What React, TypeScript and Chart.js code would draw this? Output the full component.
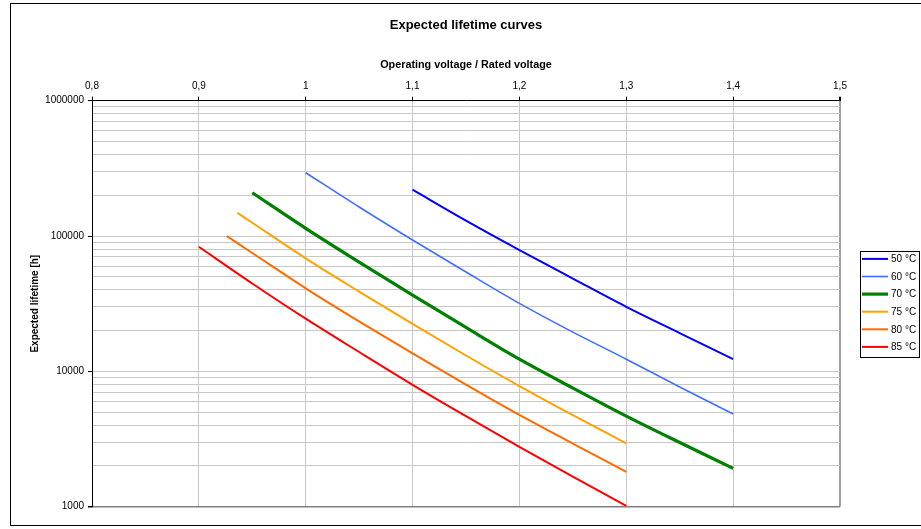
import React, { useEffect, useRef } from "react";
import { Chart, registerables } from "chart.js";

Chart.register(...registerables);

// ---------- data ----------
const chartTitle = "Expected lifetime curves";
const xAxisTitle = "Operating voltage / Rated voltage";
const yAxisTitle = "Expected lifetime [h]";

const seriesNames = ["50 °C", "60 °C", "70 °C", "75 °C", "80 °C", "85 °C"];

const volts50 = [1.1, 1.15, 1.2, 1.25, 1.3, 1.35, 1.4];
const life50 = [220000, 130000, 78800, 48500, 30000, 19200, 12300];

const volts60 = [1.0, 1.05, 1.1, 1.15, 1.2, 1.25, 1.3, 1.35, 1.4];
const life60 = [293700, 163800, 93400, 54200, 31800, 19500, 12300, 7660, 4840];

const volts70 = [0.95, 1.0, 1.05, 1.1, 1.15, 1.2, 1.25, 1.3, 1.35, 1.4];
const life70 = [208900, 114000, 64200, 36600, 21100, 12300, 7530, 4670, 2980, 1920];

const volts75 = [0.936, 0.95, 1.0, 1.05, 1.1, 1.15, 1.2, 1.25, 1.3];
const life75 = [148700, 125400, 68400, 38900, 22400, 13100, 7790, 4750, 2940];

const volts80 = [0.926, 0.95, 1.0, 1.05, 1.1, 1.15, 1.2, 1.25, 1.3];
const life80 = [100000, 74900, 41100, 23400, 13600, 7990, 4770, 2930, 1810];

const volts85 = [0.9, 0.95, 1.0, 1.05, 1.1, 1.15, 1.2, 1.25, 1.3];
const life85 = [83300, 44600, 24500, 13900, 7960, 4670, 2770, 1670, 1016];

const xMin = 0.8;
const xMax = 1.5;
const xStep = 0.1;

const yDecades = [1000, 10000, 100000];
const yMultipliers = [1, 2, 3, 4, 5, 6, 7, 8, 9];
const yMin = 1000;
const yMax = 1000000;

// ---------- styles ----------
const seriesColors = ["#0000ff", "#3f6fff", "#008000", "#ffa200", "#ff6a00", "#ff0000"];
const seriesWidths = [2, 1.6, 3.2, 2, 2, 2];

const FONT = "'Liberation Sans', Arial, Helvetica, sans-serif";

const allVolts = [volts50, volts60, volts70, volts75, volts80, volts85];
const allLife = [life50, life60, life70, life75, life80, life85];

const yTickValues: number[] = [];
yDecades.forEach((d) => yMultipliers.forEach((m) => yTickValues.push(d * m)));
yTickValues.push(yMax);

const fmtX = (v: number) => String(Number(v.toFixed(2))).replace(".", ",");

const framePlugin = {
  id: "frame",
  beforeDraw(chart: any) {
    const { ctx } = chart;
    ctx.save();
    ctx.fillStyle = "#ffffff";
    ctx.fillRect(0, 0, chart.width, chart.height);
    ctx.strokeStyle = "#000000";
    ctx.lineWidth = 1;
    ctx.strokeRect(10.5, 3.5, chart.width + 20, 522);
    ctx.restore();
  },
};

const legendPlugin = {
  id: "boxLegend",
  afterDraw(chart: any) {
    const { ctx, chartArea } = chart;
    const ds = chart.data.datasets;
    const rowH = 17.6;
    const boxW = 59;
    const boxH = rowH * ds.length;
    const left = chartArea.right + 20;
    const top = (chartArea.top + chartArea.bottom) / 2 - boxH / 2 + 0.5;
    ctx.save();
    ctx.strokeStyle = "#000000";
    ctx.lineWidth = 1;
    ctx.strokeRect(Math.round(left) + 0.5, Math.round(top) + 0.5, boxW, Math.round(boxH));
    ctx.font = `10px ${FONT}`;
    ctx.textBaseline = "middle";
    ctx.textAlign = "left";
    ds.forEach((d: any, i: number) => {
      const y = top + 7.5 + i * rowH;
      ctx.strokeStyle = d.borderColor;
      ctx.lineWidth = d.borderWidth;
      ctx.beginPath();
      ctx.moveTo(left + 2, y);
      ctx.lineTo(left + 28, y);
      ctx.stroke();
      ctx.fillStyle = "#000000";
      ctx.fillText(d.label, left + 31, y + 0.5);
    });
    ctx.restore();
  },
};

export default function App() {
  const canvasRef = useRef<HTMLCanvasElement | null>(null);

  useEffect(() => {
    if (!canvasRef.current) return;
    Chart.defaults.font.family = FONT;
    const datasets = seriesNames.map((name, i) => ({
      label: name,
      data: allVolts[i].map((v, j) => ({ x: v, y: allLife[i][j] })),
      borderColor: seriesColors[i],
      backgroundColor: seriesColors[i],
      borderWidth: seriesWidths[i],
      pointRadius: 0,
      pointHoverRadius: 0,
      fill: false,
      cubicInterpolationMode: "monotone" as const,
    }));

    const chart = new Chart(canvasRef.current, {
      type: "line",
      data: { datasets },
      options: {
        animation: false,
        responsive: false,
        maintainAspectRatio: false,
        events: [],
        layout: { padding: { left: 0, right: 81, top: 0, bottom: 22.3 } },
        plugins: {
          legend: { display: false },
          tooltip: { enabled: false },
          title: {
            display: true,
            text: chartTitle,
            fullSize: false,
            color: "#000000",
            font: { size: 13, weight: "bold", family: FONT },
            padding: { top: 17.4, bottom: 10 },
          },
        },
        scales: {
          x: {
            type: "linear",
            position: "top",
            min: xMin,
            max: xMax,
            afterFit: (scale: any) => {
              scale.height = 57.7;
            },
            ticks: {
              stepSize: xStep,
              color: "#000000",
              font: { size: 10, family: FONT },
              padding: 4,
              maxRotation: 0,
              autoSkip: false,
              callback: (v: any) => fmtX(Number(v)),
            },
            grid: {
              color: (c: any) =>
                c.tick && Math.abs(c.tick.value - xMax) < 1e-6 ? "#a0a0a0" : "#c8c8c8",
              lineWidth: (c: any) =>
                c.tick && Math.abs(c.tick.value - xMax) < 1e-6 ? 2 : 1,
              tickColor: "#000000",
              tickLength: 4,
              drawTicks: true,
            },
            border: { display: true, color: "#000000", width: 1 },
            title: {
              display: true,
              text: xAxisTitle,
              color: "#000000",
              font: { size: 10.8, weight: "bold", family: FONT },
              padding: { top: 15.5, bottom: 0 },
            },
          },
          y: {
            type: "logarithmic",
            position: "left",
            min: yMin,
            max: yMax,
            afterFit: (scale: any) => {
              scale.width = 92;
            },
            afterBuildTicks: (scale: any) => {
              scale.ticks = yTickValues.map((v) => ({
                value: v,
                major: Math.abs(Math.log10(v) - Math.round(Math.log10(v))) < 1e-9,
              }));
            },
            ticks: {
              color: "#000000",
              font: { size: 10, family: FONT },
              padding: 4,
              autoSkip: false,
              callback: (v: any) => {
                const n = Number(v);
                const l = Math.log10(n);
                return Math.abs(l - Math.round(l)) < 1e-9 ? String(n) : "";
              },
            },
            grid: {
              color: (c: any) => (c.tick && c.tick.value === yMin ? "#808080" : "#c8c8c8"),
              lineWidth: (c: any) => (c.tick && c.tick.value === yMin ? 1.5 : 1),
              tickColor: (c: any) => {
                if (!c.tick) return "rgba(0,0,0,0)";
                const l = Math.log10(c.tick.value);
                return Math.abs(l - Math.round(l)) < 1e-9 ? "#000000" : "rgba(0,0,0,0)";
              },
              tickLength: 4,
              drawTicks: true,
            },
            border: { display: true, color: "#000000", width: 1 },
            title: {
              display: true,
              text: yAxisTitle,
              color: "#000000",
              font: { size: 10, weight: "bold", family: FONT },
              padding: { top: 29, bottom: 0 },
            },
          },
        },
      },
      plugins: [framePlugin, legendPlugin],
    } as any);

    return () => chart.destroy();
  }, []);

  return (
    <div style={{ position: "absolute", left: 0, top: 0, width: 921, height: 529 }}>
      <canvas ref={canvasRef} width={921} height={529} style={{ display: "block", width: 921, height: 529 }} />
    </div>
  );
}
